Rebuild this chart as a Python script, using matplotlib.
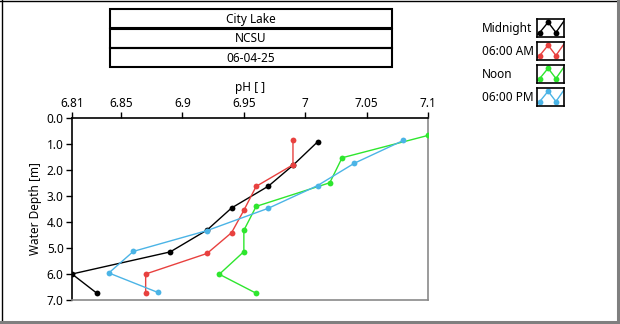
import matplotlib
matplotlib.use("Agg")
import matplotlib.pyplot as plt
from matplotlib.patches import Rectangle
from matplotlib.lines import Line2D

plt.rcParams['font.family'] = ['Noto Sans', 'DejaVu Sans']

# Depth profiles of pH at City Lake
depth_midnight = [0.92, 1.82, 2.62, 3.46, 4.31, 5.15, 6.0, 6.73]
ph_midnight = [7.01, 6.99, 6.97, 6.94, 6.92, 6.89, 6.81, 6.83]

depth_6am = [0.86, 1.80, 2.63, 3.55, 4.41, 5.21, 6.0, 6.73]
ph_6am = [6.99, 6.99, 6.96, 6.95, 6.94, 6.92, 6.87, 6.87]

depth_noon = [0.67, 1.53, 2.49, 3.40, 4.32, 5.14, 6.01, 6.74]
ph_noon = [7.10, 7.03, 7.02, 6.96, 6.95, 6.95, 6.93, 6.96]

depth_6pm = [0.86, 1.74, 2.60, 3.47, 4.33, 5.13, 5.96, 6.71]
ph_6pm = [7.08, 7.04, 7.01, 6.97, 6.92, 6.86, 6.84, 6.88]

series_names = ["Midnight", "06:00 AM", "Noon", "06:00 PM"]
series_colors = ["#000000", "#E8413F", "#2EE62E", "#4BB4E6"]

header_lines = ["City Lake", "NCSU", "06-04-25"]

x_ticks = [6.81, 6.85, 6.9, 6.95, 7.0, 7.05, 7.1]
x_tick_labels = ["6.81", "6.85", "6.9", "6.95", "7", "7.05", "7.1"]
y_ticks = [0, 1, 2, 3, 4, 5, 6, 7]

W, H = 620, 324
fig = plt.figure(figsize=(W / 100, H / 100), dpi=100)
fig.patch.set_facecolor("white")


def fx(px):
    return px / W


def fy(py):
    return 1 - py / H


# outer frame: dark top/left, grey bottom/right
fig.add_artist(Line2D([fx(0), fx(620)], [fy(0.5), fy(0.5)], color="black", lw=1.0, transform=fig.transFigure))
fig.add_artist(Line2D([fx(1.5), fx(1.5)], [fy(0), fy(321)], color="black", lw=1.0, transform=fig.transFigure))
fig.add_artist(Line2D([fx(617.5), fx(617.5)], [fy(0), fy(323)], color="#7f7f7f", lw=2.2, transform=fig.transFigure))
fig.add_artist(Line2D([fx(0), fx(619)], [fy(322), fy(322)], color="#7f7f7f", lw=2.2, transform=fig.transFigure))

# header boxes
box_rows = [(9, 28), (28.5, 47.5), (48, 67)]
for (top, bottom), txt in zip(box_rows, header_lines):
    fig.add_artist(Rectangle((fx(109.5), fy(bottom)), fx(392) - fx(109.5), fy(top) - fy(bottom),
                             transform=fig.transFigure, fill=False, edgecolor="black", lw=1.5))
    fig.text(fx(250.5), fy((top + bottom) / 2 + 0.5), txt, ha="center", va="center", fontsize=8.5, color="black")

# main plot
ax = fig.add_axes([fx(72), fy(300), fx(428) - fx(72), fy(118) - fy(300)])
profiles = [(ph_midnight, depth_midnight), (ph_6am, depth_6am), (ph_noon, depth_noon), (ph_6pm, depth_6pm)]
for (ph, d), c in zip(profiles, series_colors):
    ax.plot(ph, d, color=c, lw=1.0, marker="o", markersize=4.2, markeredgewidth=0, zorder=3)

ax.set_xlim(6.81, 7.1)
ax.set_ylim(7.0, 0.0)
ax.xaxis.tick_top()
ax.xaxis.set_label_position("top")
ax.set_xticks(x_ticks)
ax.set_xticklabels(x_tick_labels)
ax.set_yticks(y_ticks)
ax.set_yticklabels([f"{v:.1f}" for v in y_ticks])
ax.tick_params(axis="both", direction="out", length=4, width=1, labelsize=8.5, colors="black", pad=2)
ax.set_xlabel("pH [ ]", fontsize=8.5, labelpad=4)
ax.set_ylabel("Water Depth [m]", fontsize=8.5, labelpad=3)
ax.spines["top"].set_color("black")
ax.spines["left"].set_color("black")
ax.spines["right"].set_color("#8a8a8a")
ax.spines["bottom"].set_color("#8a8a8a")
for s in ax.spines.values():
    s.set_linewidth(1.2)

# legend with boxed icons
icon_tops = [19, 42, 65, 88]
for name, c, top in zip(series_names, series_colors, icon_tops):
    fig.text(fx(482), fy(top + 9.5), name, ha="left", va="center", fontsize=8.5, color="black")
    iax = fig.add_axes([fx(536.5), fy(top + 18), fx(563.5) - fx(536.5), fy(top) - fy(top + 18)])
    iax.set_xlim(0, 1)
    iax.set_ylim(0, 1)
    iax.set_xticks([])
    iax.set_yticks([])
    for s in iax.spines.values():
        s.set_color("black")
        s.set_linewidth(1.2)
    iax.plot([0.0, 0.12, 0.43, 0.72, 1.0], [0.1, 0.25, 0.82, 0.25, 0.85], color=c, lw=1.0)
    iax.plot([0.12, 0.43, 0.72], [0.25, 0.82, 0.25], color=c, lw=0, marker="o",
             markersize=4.2, markeredgewidth=0)

fig.savefig("out.png", dpi=100, facecolor="white")
